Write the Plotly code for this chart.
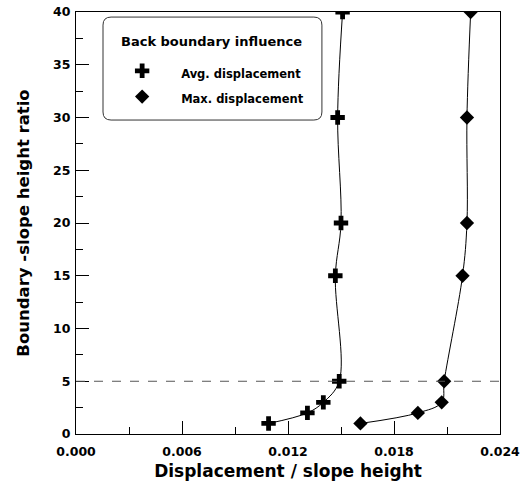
import plotly.graph_objects as go

# Data
ratio = [1, 2, 3, 5, 15, 20, 30, 40]
avg_disp = [0.0109, 0.0131, 0.0140, 0.0149, 0.01468, 0.0150, 0.01481, 0.01509]
ratio_max = [1, 2, 3, 5, 15, 20, 30, 40]
max_disp = [0.0161, 0.01935, 0.0207, 0.02084, 0.02188, 0.02213, 0.02213, 0.02234]

x_ticks = [0.0, 0.006, 0.012, 0.018, 0.024]
x_ticklabels = ["0.000", "0.006", "0.012", "0.018", "0.024"]
y_ticks = [0, 5, 10, 15, 20, 25, 30, 35, 40]

FONT = "DejaVu Sans, Liberation Sans, sans-serif"

fig = go.Figure()

# curves
fig.add_trace(go.Scatter(x=avg_disp, y=ratio, mode="lines", line=dict(color="black", width=1, shape="spline"),
                         showlegend=False, hoverinfo="skip"))
fig.add_trace(go.Scatter(x=max_disp, y=ratio_max, mode="lines", line=dict(color="black", width=1, shape="spline"),
                         showlegend=False, hoverinfo="skip"))
# markers
fig.add_trace(go.Scatter(x=avg_disp, y=ratio, mode="markers",
                         name="<span style='font-size:11.5px'>Avg. displacement</span>",
                         marker=dict(symbol="cross", size=12, color="black")))
fig.add_trace(go.Scatter(x=max_disp, y=ratio_max, mode="markers",
                         name="<span style='font-size:11.5px'>Max. displacement</span>",
                         marker=dict(symbol="diamond", size=11, color="black")))

# dashed line at ratio 5
fig.add_shape(type="line", xref="paper", x0=0, x1=1, yref="y", y0=5, y1=5,
              line=dict(color="#555555", width=1, dash="dash"))

# rounded legend box
x0, x1, y0, y1 = 0.0637, 0.580, 0.744, 0.988
rx, ry = 0.019, 0.019
path = (f"M {x0+rx},{y0} L {x1-rx},{y0} Q {x1},{y0} {x1},{y0+ry} L {x1},{y1-ry} Q {x1},{y1} {x1-rx},{y1} "
        f"L {x0+rx},{y1} Q {x0},{y1} {x0},{y1-ry} L {x0},{y0+ry} Q {x0},{y0} {x0+rx},{y0} Z")
fig.add_shape(type="path", xref="paper", yref="paper", path=path, line=dict(color="#333333", width=1))

# legend title
fig.add_annotation(text="Back boundary influence", xref="paper", yref="paper", x=0.320, y=0.929,
                   xanchor="center", yanchor="middle", showarrow=False,
                   font=dict(family=FONT, size=13, color="black", weight="bold"))

axis_common = dict(showline=True, linecolor="black", linewidth=1, mirror=True, showgrid=False, zeroline=False,
                   ticks="inside", ticklen=13, tickwidth=1, tickcolor="black", automargin=False,
                   tickfont=dict(family=FONT, size=12.5, color="black", weight="bold"))

fig.update_xaxes(range=[0, 0.024], tickvals=x_ticks, ticktext=x_ticklabels, ticklabelstandoff=6,
                 minor=dict(dtick=0.003, ticks="inside", ticklen=7, tickcolor="black", tick0=0),
                 title=dict(text="Displacement / slope height", font=dict(family=FONT, size=17, color="black", weight="bold"),
                            standoff=7),
                 **axis_common)
fig.update_yaxes(range=[0, 40], tickvals=y_ticks, ticklabelstandoff=2,
                 minor=dict(dtick=2.5, ticks="inside", ticklen=7, tickcolor="black", tick0=0),
                 title=dict(text="Boundary -slope height ratio", font=dict(family=FONT, size=16.5, color="black", weight="bold"),
                            standoff=19),
                 **axis_common)

fig.update_layout(
    width=527, height=486,
    margin=dict(l=76, r=27, t=12, b=52, autoexpand=False),
    plot_bgcolor="white", paper_bgcolor="white",
    legend=dict(x=0.064, y=0.903, xanchor="left", yanchor="top", bgcolor="rgba(0,0,0,0)",
                borderwidth=0, itemwidth=68,
                font=dict(family=FONT, size=17.5, color="black", weight="bold")),
)

fig.write_html("out.html")
